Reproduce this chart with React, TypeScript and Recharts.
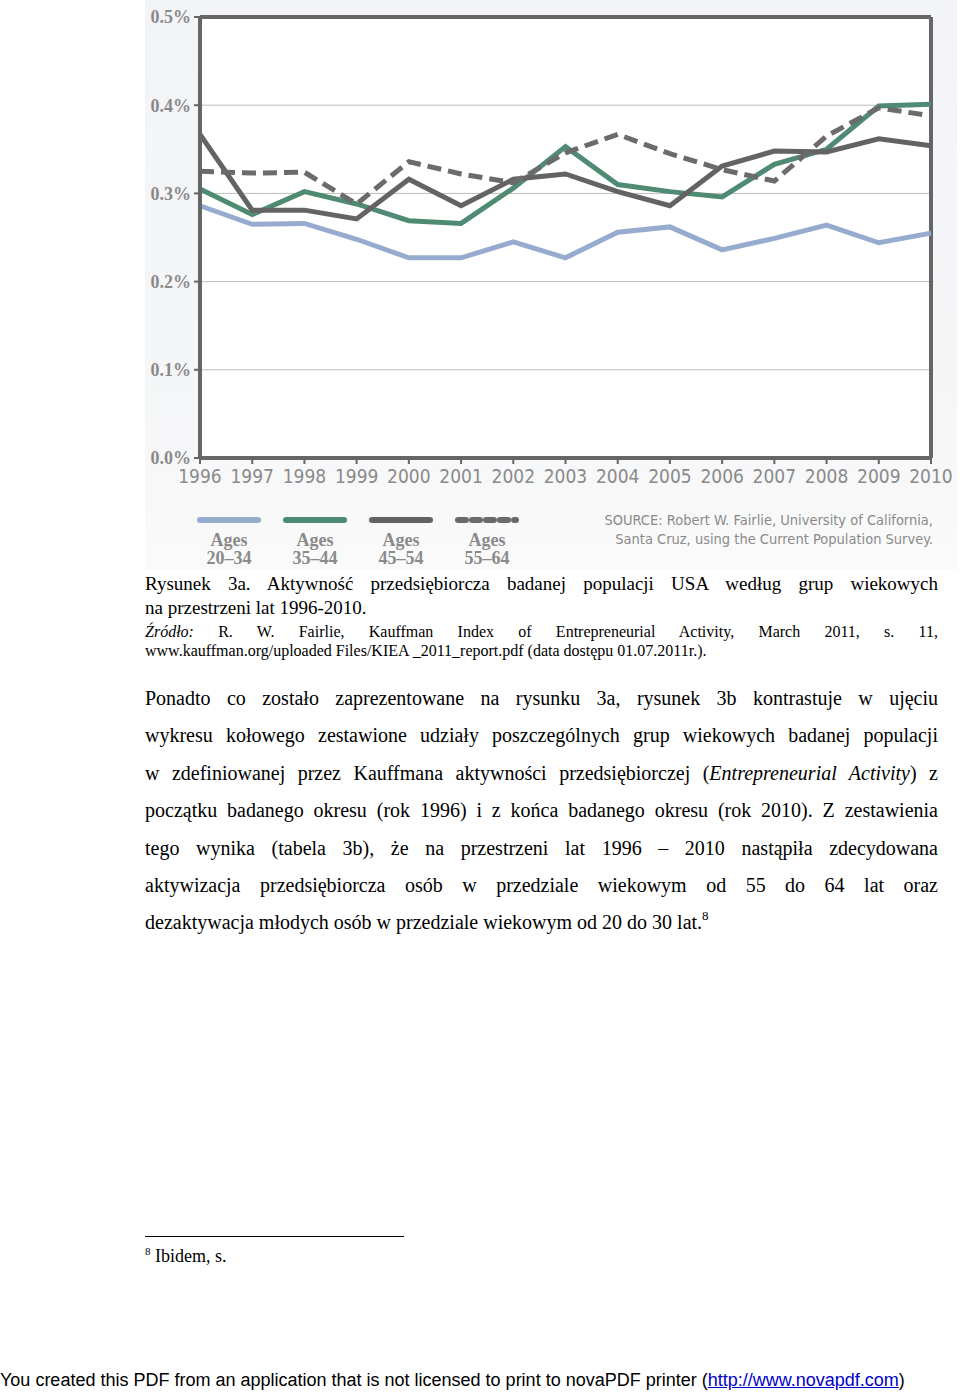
import React from "react";
import {
  LineChart,
  Line,
  XAxis,
  YAxis,
  CartesianGrid,
  ReferenceLine,
} from "recharts";

// Entrepreneurial activity by age group, 1996-2010 (% of adults starting a business per month)
const years = [
  "1996", "1997", "1998", "1999", "2000", "2001", "2002", "2003",
  "2004", "2005", "2006", "2007", "2008", "2009", "2010",
];
const ages2034 = [0.286, 0.265, 0.266, 0.248, 0.227, 0.227, 0.245, 0.227, 0.256, 0.262, 0.236, 0.249, 0.264, 0.244, 0.255];
const ages3544 = [0.305, 0.276, 0.302, 0.288, 0.269, 0.266, 0.306, 0.353, 0.31, 0.302, 0.296, 0.333, 0.35, 0.399, 0.401];
const ages4554 = [0.367, 0.281, 0.281, 0.271, 0.316, 0.286, 0.316, 0.322, 0.302, 0.286, 0.331, 0.348, 0.347, 0.362, 0.354];
const ages5564 = [0.325, 0.323, 0.324, 0.288, 0.336, 0.322, 0.312, 0.346, 0.367, 0.345, 0.327, 0.314, 0.365, 0.397, 0.388];
const yTicks = [0, 0.1, 0.2, 0.3, 0.4, 0.5];

const series = [
  { key: "a2034", label: "20–34", color: "#97abcf", dash: undefined as string | undefined },
  { key: "a3544", label: "35–44", color: "#4f8a73", dash: undefined },
  { key: "a4554", label: "45–54", color: "#636363", dash: undefined },
  { key: "a5564", label: "55–64", color: "#6b6b6b", dash: "14 7" },
];

const data = years.map((year, i) => ({
  year,
  a2034: ages2034[i],
  a3544: ages3544[i],
  a4554: ages4554[i],
  a5564: ages5564[i],
}));

const AXIS = "#666666";
const LABEL = "#8a8a8a";
const NARROW = "'Liberation Sans Narrow', 'DejaVu Sans Condensed', 'Roboto', sans-serif";
const SERIF = "'Liberation Serif', 'DejaVu Serif', serif";

function Line_({ children, last }: { children: React.ReactNode; last?: boolean }) {
  // one typeset line of the justified paragraph
  return (
    <div style={{ textAlign: "justify", textAlignLast: last ? "left" : "justify", whiteSpace: "nowrap" }}>
      {children}
    </div>
  );
}

export default function App() {
  return (
    <div
      style={{
        position: "absolute",
        left: 0,
        top: 0,
        width: 960,
        height: 1394,
        background: "#fff",
        overflow: "hidden",
        color: "#000",
      }}
    >
      {/* grey panel behind the chart */}
      <div
        style={{
          position: "absolute",
          left: 145,
          top: 0,
          width: 812,
          height: 570,
          background: "linear-gradient(180deg, #f2f4f7 0%, #f5f6f8 70%, #fafafa 100%)",
        }}
      />
      <div style={{ position: "absolute", left: 0, top: 0 }}>
        <LineChart
          width={960}
          height={575}
          data={data}
          margin={{ top: 17, right: 29, left: 145, bottom: 77 }}
        >
          <CartesianGrid vertical={false} stroke="#bcbcbc" strokeWidth={1} fill="#ffffff" />
          <XAxis
            dataKey="year"
            height={40}
            interval={0}
            axisLine={{ stroke: AXIS, strokeWidth: 4 }}
            tickLine={{ stroke: AXIS, strokeWidth: 2 }}
            tickSize={6}
            tickMargin={6}
            tick={{ fill: LABEL, fontSize: 19, fontFamily: NARROW }}
          />
          <YAxis
            width={55}
            domain={[0, 0.5]}
            ticks={yTicks}
            interval={0}
            axisLine={{ stroke: AXIS, strokeWidth: 4 }}
            tickLine={{ stroke: AXIS, strokeWidth: 2 }}
            tickSize={6}
            tickMargin={3}
            tickFormatter={(v: number) => `${v.toFixed(1)}%`}
            tick={{ fill: LABEL, fontSize: 18, fontFamily: SERIF, fontWeight: "bold" }}
          />
          <ReferenceLine y={0.5} stroke={AXIS} strokeWidth={4} />
          <ReferenceLine x="2010" stroke={AXIS} strokeWidth={4} />
          {series.map((s) => (
            <Line
              key={s.key}
              type="linear"
              dataKey={s.key}
              stroke={s.color}
              strokeWidth={5}
              strokeDasharray={s.dash}
              dot={false}
              activeDot={false}
              isAnimationActive={false}
            />
          ))}
        </LineChart>
      </div>

      {/* legend */}
      <div style={{ position: "absolute", left: 186, top: 514, display: "flex" }}>
        {series.map((s) => (
          <div key={s.key} style={{ width: 86, textAlign: "center" }}>
            <svg width={66} height={12} style={{ display: "block", margin: "0 auto" }}>
              <line
                x1={4}
                y1={6}
                x2={62}
                y2={6}
                stroke={s.color}
                strokeWidth={6}
                strokeLinecap="round"
                strokeDasharray={s.dash ? "8 6" : undefined}
              />
            </svg>
            <div
              style={{
                fontFamily: SERIF,
                fontSize: 18,
                lineHeight: "18px",
                color: LABEL,
                marginTop: 5,
                fontWeight: "bold",
              }}
            >
              Ages
              <br />
              {s.label}
            </div>
          </div>
        ))}
      </div>

      {/* source note */}
      <div
        style={{
          position: "absolute",
          right: 27,
          top: 511,
          textAlign: "right",
          fontFamily: NARROW,
          fontSize: 14.5,
          lineHeight: "19px",
          color: LABEL,
        }}
      >
        SOURCE: Robert W. Fairlie, University of California,
        <br />
        Santa Cruz, using the Current Population Survey.
      </div>

      {/* caption */}
      <div style={{ position: "absolute", left: 145, top: 572, width: 793, fontFamily: SERIF, fontSize: 19, lineHeight: "24px" }}>
        <Line_>Rysunek 3a. Aktywność przedsiębiorcza badanej populacji USA według grup wiekowych</Line_>
        <Line_ last>na przestrzeni lat 1996-2010.</Line_>
      </div>
      <div style={{ position: "absolute", left: 145, top: 622, width: 793, fontFamily: SERIF, fontSize: 16, lineHeight: "19px" }}>
        <Line_>
          <i>Źródło:</i> R. W. Fairlie, Kauffman Index of Entrepreneurial Activity, March 2011, s. 11,
        </Line_>
        <Line_ last>www.kauffman.org/uploaded Files/KIEA _2011_report.pdf (data dostępu 01.07.2011r.).</Line_>
      </div>

      {/* body paragraph */}
      <div style={{ position: "absolute", left: 145, top: 680, width: 793, fontFamily: SERIF, fontSize: 20, lineHeight: "37.4px" }}>
        <Line_>Ponadto co zostało zaprezentowane na rysunku 3a, rysunek 3b kontrastuje w ujęciu</Line_>
        <Line_>wykresu kołowego zestawione udziały poszczególnych grup wiekowych badanej populacji</Line_>
        <Line_>
          w zdefiniowanej przez Kauffmana aktywności przedsiębiorczej (<i>Entrepreneurial Activity</i>) z
        </Line_>
        <Line_>początku badanego okresu (rok 1996) i z końca badanego okresu (rok 2010). Z zestawienia</Line_>
        <Line_>tego wynika (tabela 3b), że na przestrzeni lat 1996 – 2010 nastąpiła zdecydowana</Line_>
        <Line_>aktywizacja przedsiębiorcza osób w przedziale wiekowym od 55 do 64 lat oraz</Line_>
        <Line_ last>
          dezaktywacja młodych osób w przedziale wiekowym od 20 do 30 lat.
          <span style={{ fontSize: 13, position: "relative", top: -9, lineHeight: 0 }}>8</span>
        </Line_>
      </div>

      {/* footnote */}
      <div style={{ position: "absolute", left: 145, top: 1236, width: 259, height: 1, background: "#000" }} />
      <div style={{ position: "absolute", left: 145, top: 1245, fontFamily: SERIF, fontSize: 18, lineHeight: "22px" }}>
        <span style={{ fontSize: 11, position: "relative", top: -7, lineHeight: 0 }}>8</span> Ibidem, s.
      </div>

      {/* printer notice */}
      <div
        style={{
          position: "absolute",
          left: 0,
          top: 1369,
          fontFamily: "'Liberation Sans', Arial, sans-serif",
          fontSize: 18,
          lineHeight: "22px",
          whiteSpace: "nowrap",
        }}
      >
        You created this PDF from an application that is not licensed to print to novaPDF printer (
        <span style={{ color: "#0000cc", textDecoration: "underline" }}>http://www.novapdf.com</span>)
      </div>
    </div>
  );
}
